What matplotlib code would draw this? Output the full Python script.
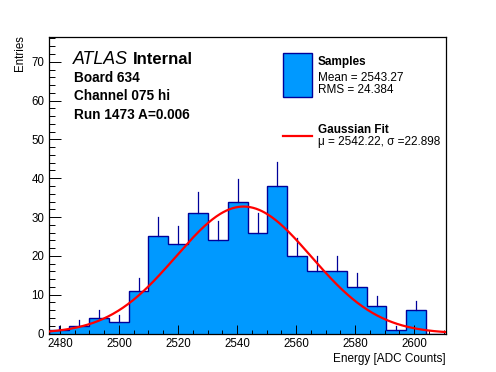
import numpy
import matplotlib
matplotlib.use("Agg")
import matplotlib.pyplot as plt
from matplotlib.patches import Rectangle
from matplotlib.lines import Line2D
from matplotlib.ticker import MultipleLocator

plt.rcParams['font.family'] = ['Liberation Sans', 'DejaVu Sans']

#histogram data
xLow = 2476.4
xHigh = 2610.8
nBins = 20
counts = [1, 2, 4, 3, 11, 25, 23, 31, 24, 34, 26, 38, 20, 16, 16, 12, 7, 1, 6, 0]

#fit results
fitMean = 2542.22
fitSigma = 22.898
fitAmp = 32.7

fillColor = '#0099ff'
lineColor = '#000099'

W, H = 496, 372
fig = plt.figure(figsize=(W / 100, H / 100), dpi=100)
ax = fig.add_axes([49.3 / W, 1 - 333.5 / H, (446 - 49.3) / W, (333.5 - 37.3) / H])

edges = numpy.linspace(xLow, xHigh, nBins + 1)
centers = 0.5 * (edges[:-1] + edges[1:])
counts = numpy.array(counts, dtype=float)

ax.stairs(counts, edges, fill=True, facecolor=fillColor, edgecolor='none', zorder=1)
ax.stairs(counts, edges, baseline=0, color=lineColor, linewidth=1.0, zorder=2)

#error bars, only the upper half shows above the fill
for c, n in zip(centers, counts):
	if n > 0:
		ax.plot([c, c], [n, n + numpy.sqrt(n)], color=lineColor, linewidth=0.9, zorder=2)

xx = numpy.linspace(xLow, xHigh, 400)
yy = fitAmp * numpy.exp(-0.5 * ((xx - fitMean) / fitSigma) ** 2)
ax.plot(xx, yy, color='red', linewidth=1.6, zorder=3)

ax.set_xlim(xLow, xHigh)
ax.set_ylim(0, 76.3)
ax.xaxis.set_major_locator(MultipleLocator(20))
ax.xaxis.set_minor_locator(MultipleLocator(5))
ax.yaxis.set_major_locator(MultipleLocator(10))
ax.yaxis.set_minor_locator(MultipleLocator(2))
ax.tick_params(axis='x', which='major', direction='in', length=6.5, width=0.7, labelsize=8.3, pad=3)
ax.tick_params(axis='x', which='minor', direction='in', length=3, width=0.7)
ax.tick_params(axis='y', which='major', direction='in', length=8.6, width=0.7, labelsize=8.3, pad=3.5)
ax.tick_params(axis='y', which='minor', direction='in', length=4.3, width=0.7)
for s in ax.spines.values():
	s.set_linewidth(0.9)

fig.text(446 / W, 1 - 362 / H, 'Energy [ADC Counts]', ha='right', va='baseline', fontsize=8.5)
fig.text(20 / W, 1 - 35 / H, 'Entries', ha='center', va='top', rotation=90, fontsize=8.3)

def px(x, y):
	return x / W, 1 - y / H

#ATLAS label block
fig.text(*px(73, 64), 'ATLAS', style='italic', fontsize=12.8, va='baseline')
fig.text(*px(133, 64), 'Internal', weight='bold', fontsize=12, va='baseline')
fig.text(*px(74, 81.7), 'Board 634', weight='bold', fontsize=9.8, va='baseline')
fig.text(*px(74, 100.5), 'Channel 075 hi', weight='bold', fontsize=9.8, va='baseline')
fig.text(*px(74, 119.3), 'Run 1473 A=0.006', weight='bold', fontsize=9.8, va='baseline')

#legend drawn by hand
fig.patches.append(Rectangle(px(283.3, 96.7), 28.4 / W, 43.4 / H, transform=fig.transFigure,
	facecolor=fillColor, edgecolor=lineColor, linewidth=1.0))
fig.lines.append(Line2D([283 / W, 311.7 / W], [1 - 135.7 / H, 1 - 135.7 / H], transform=fig.transFigure,
	color='red', linewidth=1.6))
fig.text(*px(317.7, 65), 'Samples', weight='bold', fontsize=8.5, va='baseline')
fig.text(*px(317.7, 80.7), 'Mean = 2543.27', fontsize=8.5, va='baseline')
fig.text(*px(317.7, 93.3), 'RMS = 24.384', fontsize=8.5, va='baseline')
fig.text(*px(317.7, 133.3), 'Gaussian Fit', weight='bold', fontsize=8.5, va='baseline')
fig.text(*px(317.7, 145.5), 'μ = 2542.22, σ =22.898', fontsize=8.5, va='baseline')

fig.savefig('out.png', dpi=100)
